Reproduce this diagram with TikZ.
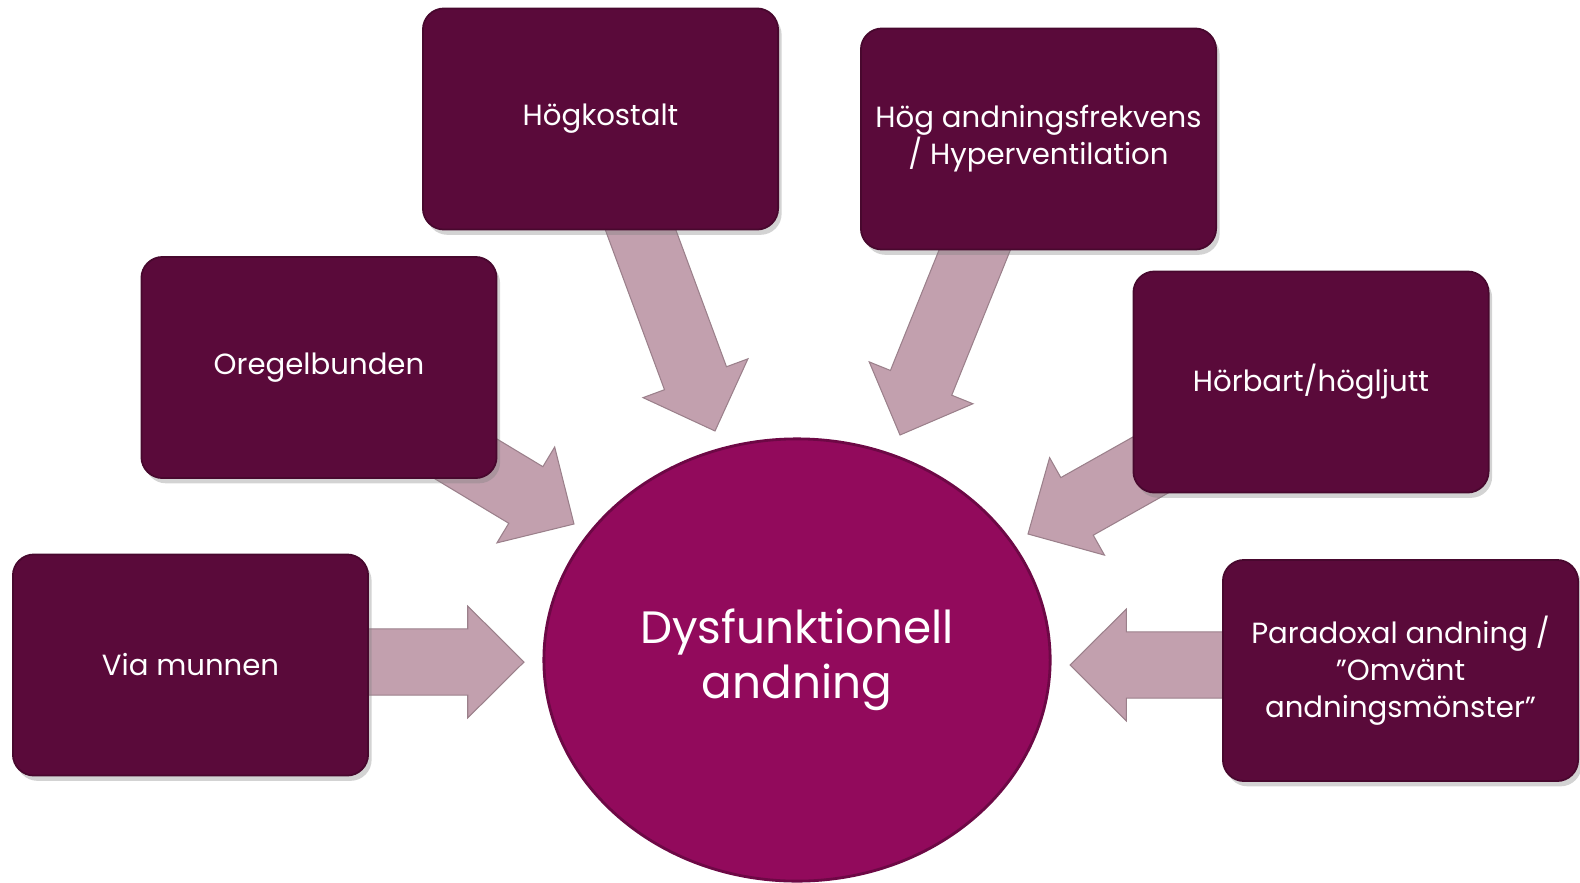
\documentclass[tikz,border=0pt]{standalone}
\usepackage{fontspec}
\setmainfont{Poppins}
\usetikzlibrary{shapes.geometric,calc,backgrounds,shadows}

\definecolor{boxplum}{HTML}{5A0A3A}
\definecolor{centreplum}{HTML}{920A5C}
\definecolor{arrowpink}{HTML}{C2A0AE}

% Blockpil från #1 till #2
\newcommand{\arrshaft}{9.4pt}
\newcommand{\arrwing}{15.9pt}
\newcommand{\arrhead}{16pt}
\newcommand{\blockarrow}[2]{%
  \fill[arrowbody] let \p3=($(#2)!\arrhead!(#1)$) in
    ($(#1)!\arrshaft!90:(#2)$) -- ($(\p3)!\arrshaft!90:(#2)$) -- ($(\p3)!\arrwing!90:(#2)$) -- (#2)
    -- ($(\p3)!\arrwing!-90:(#2)$) -- ($(\p3)!\arrshaft!-90:(#2)$) -- ($(#1)!\arrshaft!-90:(#2)$) -- cycle;}

\begin{document}
\begin{tikzpicture}[x=0.01cm, y=-0.01cm,
    causebox/.style={rectangle, rounded corners=6pt, fill=boxplum, draw=boxplum!80!black, line width=0.5pt,
      minimum width=3.55cm, minimum height=2.21cm, align=center, text=white,
      font=\fontsize{8.3pt}{10.5pt}\selectfont,
      drop shadow={opacity=0.35, shadow xshift=1pt, shadow yshift=-1.5pt}},
    centre/.style={ellipse, fill=centreplum, draw=centreplum!75!black, line width=0.8pt,
      minimum width=5.06cm, minimum height=4.42cm, inner sep=0pt, align=center, text=white,
      font=\fontsize{12.9pt}{15.7pt}\selectfont},
    arrowbody/.style={fill=arrowpink, draw=arrowpink!80!black, line width=0.3pt}]
  \useasboundingbox (0,0) rectangle (1580,882);

  % Mitten
  \node[centre] (dys) at (797,660) {Dysfunktionell\\andning};

  % Rutor
  \node[causebox] (hogkostalt) at (600.5,119) {Högkostalt};
  \node[causebox] (frekvens) at (1038.5,139) {Hög andningsfrekvens\\/ Hyperventilation};
  \node[causebox] (oregel) at (319,367.5) {Oregelbunden};
  \node[causebox] (horbart) at (1311,382) {Hörbart/högljutt};
  \node[causebox] (munnen) at (190.5,665) {Via munnen};
  \node[causebox] (paradox) at (1400.5,670.5) {Paradoxal andning /\\”Omvänt\\andningsmönster”};

  % Pilarnas ändar
  \coordinate (hogkostalt-s) at (631,204);
  \coordinate (hogkostalt-t) at (715,431);
  \coordinate (frekvens-s) at (986,222);
  \coordinate (frekvens-t) at (900,435);
  \coordinate (oregel-s) at (403,421);
  \coordinate (oregel-t) at (574,524);
  \coordinate (horbart-s) at (1202,436);
  \coordinate (horbart-t) at (1028,534);
  \coordinate (munnen-s) at (300,662);
  \coordinate (munnen-t) at (524,662);
  \coordinate (paradox-s) at (1300,665);
  \coordinate (paradox-t) at (1070,665);

  % Pilar bakom rutorna
  \begin{pgfonlayer}{background}
    \foreach \c in {hogkostalt, frekvens, oregel, horbart, munnen, paradox}
      \blockarrow{\c-s}{\c-t};
  \end{pgfonlayer}
\end{tikzpicture}
\end{document}
